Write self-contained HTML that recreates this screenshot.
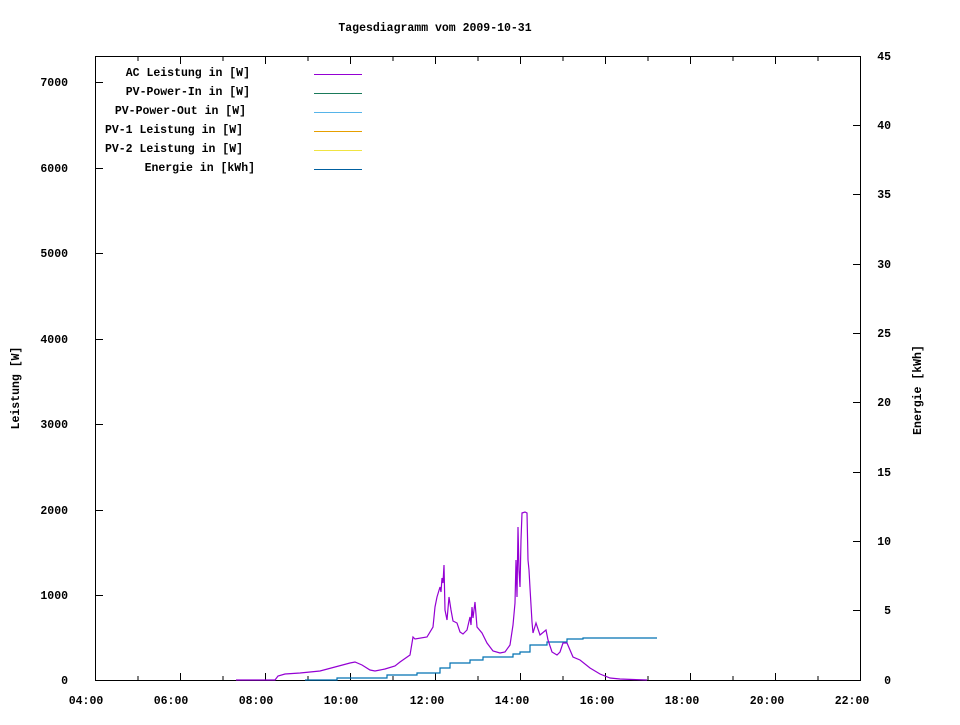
<!DOCTYPE html>
<html><head><meta charset="utf-8"><style>
body{margin:0;background:#fff}
svg text{font-family:"Liberation Mono","DejaVu Sans Mono",monospace;font-size:11.5px;font-weight:bold;fill:#000}
</style></head><body>
<svg width="960" height="720" xmlns="http://www.w3.org/2000/svg">
<rect width="960" height="720" fill="#fff"/>
<text x="435" y="31" text-anchor="middle">Tagesdiagramm vom 2009-10-31</text>
<rect x="95.5" y="56.5" width="765" height="624" fill="none" stroke="#000" stroke-width="1"/>
<g stroke="#000" stroke-width="1">
<path d="M180.5 680v-7M265.5 680v-7M350.5 680v-7M435.5 680v-7M520.5 680v-7M605.5 680v-7M690.5 680v-7M775.5 680v-7
M180.5 57v7M265.5 57v7M350.5 57v7M435.5 57v7M520.5 57v7M605.5 57v7M690.5 57v7M775.5 57v7
M138 680v-4M223 680v-4M308 680v-4M393 680v-4M478 680v-4M563 680v-4M648 680v-4M733 680v-4M818 680v-4
M138 57v4M223 57v4M308 57v4M393 57v4M478 57v4M563 57v4M648 57v4M733 57v4M818 57v4"/>
<path d="M96 595.5h7M96 510.5h7M96 424.5h7M96 339.5h7M96 253.5h7M96 168.5h7M96 82.5h7"/>
<path d="M860 610.5h-7M860 541.5h-7M860 472.5h-7M860 402.5h-7M860 333.5h-7M860 264.5h-7M860 194.5h-7M860 125.5h-7M860 56.5h-7"/>
</g>
<g text-anchor="end">
<text x="68" y="684">0</text><text x="68" y="599">1000</text><text x="68" y="514">2000</text><text x="68" y="428">3000</text>
<text x="68" y="343">4000</text><text x="68" y="257">5000</text><text x="68" y="172">6000</text><text x="68" y="86">7000</text>
</g>
<g text-anchor="end">
<text x="891" y="684">0</text><text x="891" y="614">5</text><text x="891" y="545">10</text><text x="891" y="476">15</text>
<text x="891" y="406">20</text><text x="891" y="337">25</text><text x="891" y="268">30</text><text x="891" y="198">35</text>
<text x="891" y="129">40</text><text x="891" y="60">45</text>
</g>
<g text-anchor="middle">
<text x="86" y="704">04:00</text><text x="171" y="704">06:00</text><text x="256" y="704">08:00</text><text x="341" y="704">10:00</text>
<text x="427" y="704">12:00</text><text x="512" y="704">14:00</text><text x="597" y="704">16:00</text><text x="682" y="704">18:00</text>
<text x="767" y="704">20:00</text><text x="852" y="704">22:00</text>
</g>
<text transform="translate(19,388) rotate(-90)" text-anchor="middle">Leistung [W]</text>
<text transform="translate(921,390) rotate(-90)" text-anchor="middle">Energie [kWh]</text>
<g text-anchor="end">
<text x="250" y="76">AC Leistung in [W]</text>
<text x="250" y="95">PV-Power-In in [W]</text>
<text x="246" y="114">PV-Power-Out in [W]</text>
<text x="243" y="133">PV-1 Leistung in [W]</text>
<text x="243" y="152">PV-2 Leistung in [W]</text>
<text x="255" y="171">Energie in [kWh]</text>
</g>
<g stroke-width="1">
<path d="M314 74.5h48" stroke="#9400d3"/>
<path d="M314 93.5h48" stroke="#1a7a5a"/>
<path d="M314 112.5h48" stroke="#56b4e9"/>
<path d="M314 131.5h48" stroke="#e69f00"/>
<path d="M314 150.5h48" stroke="#f0e442"/>
<path d="M314 169.5h48" stroke="#0060a0"/>
</g>
<polyline fill="none" stroke="#0072b2" stroke-width="1.2" points="305,680 337,680 337,678 387,678 387,675 417,675 417,673 440,673 440,668 450,668 450,663 470,663 470,660 483,660 483,657 513,657 513,654 520,654 520,652 530,652 530,645 547,645 547,642 567,642 567,639 583,639 583,638 657,638"/>
<polyline fill="none" stroke="#9400d3" stroke-width="1.2" points="236,680 275,680 278,676 285,674 300,673 320,671 335,667 350,663 355,662 362,665 370,670 375,671 385,669 395,666 400,662 410,655 413,637 415,639 427,637 433,627 435,607 437,597 440,587 441,592 442,578 443,583 444,565 445,610 447,620 449,597 451,610 453,621 457,623 460,632 463,634 467,630 470,617 471,625 472,607 473,618 475,602 477,627 482,633 487,643 493,651 500,653 505,652 510,645 513,625 515,603 516,560 517,597 518,527 519,570 520,587 521,540 522,513 525,512 527,513 528,560 529,570 530,588 532,622 533,633 536,623 540,635 546,630 548,640 552,652 557,655 560,652 563,643 567,643 573,657 580,660 590,668 600,674 610,678 620,679 647,680"/>
</svg>
</body></html>
